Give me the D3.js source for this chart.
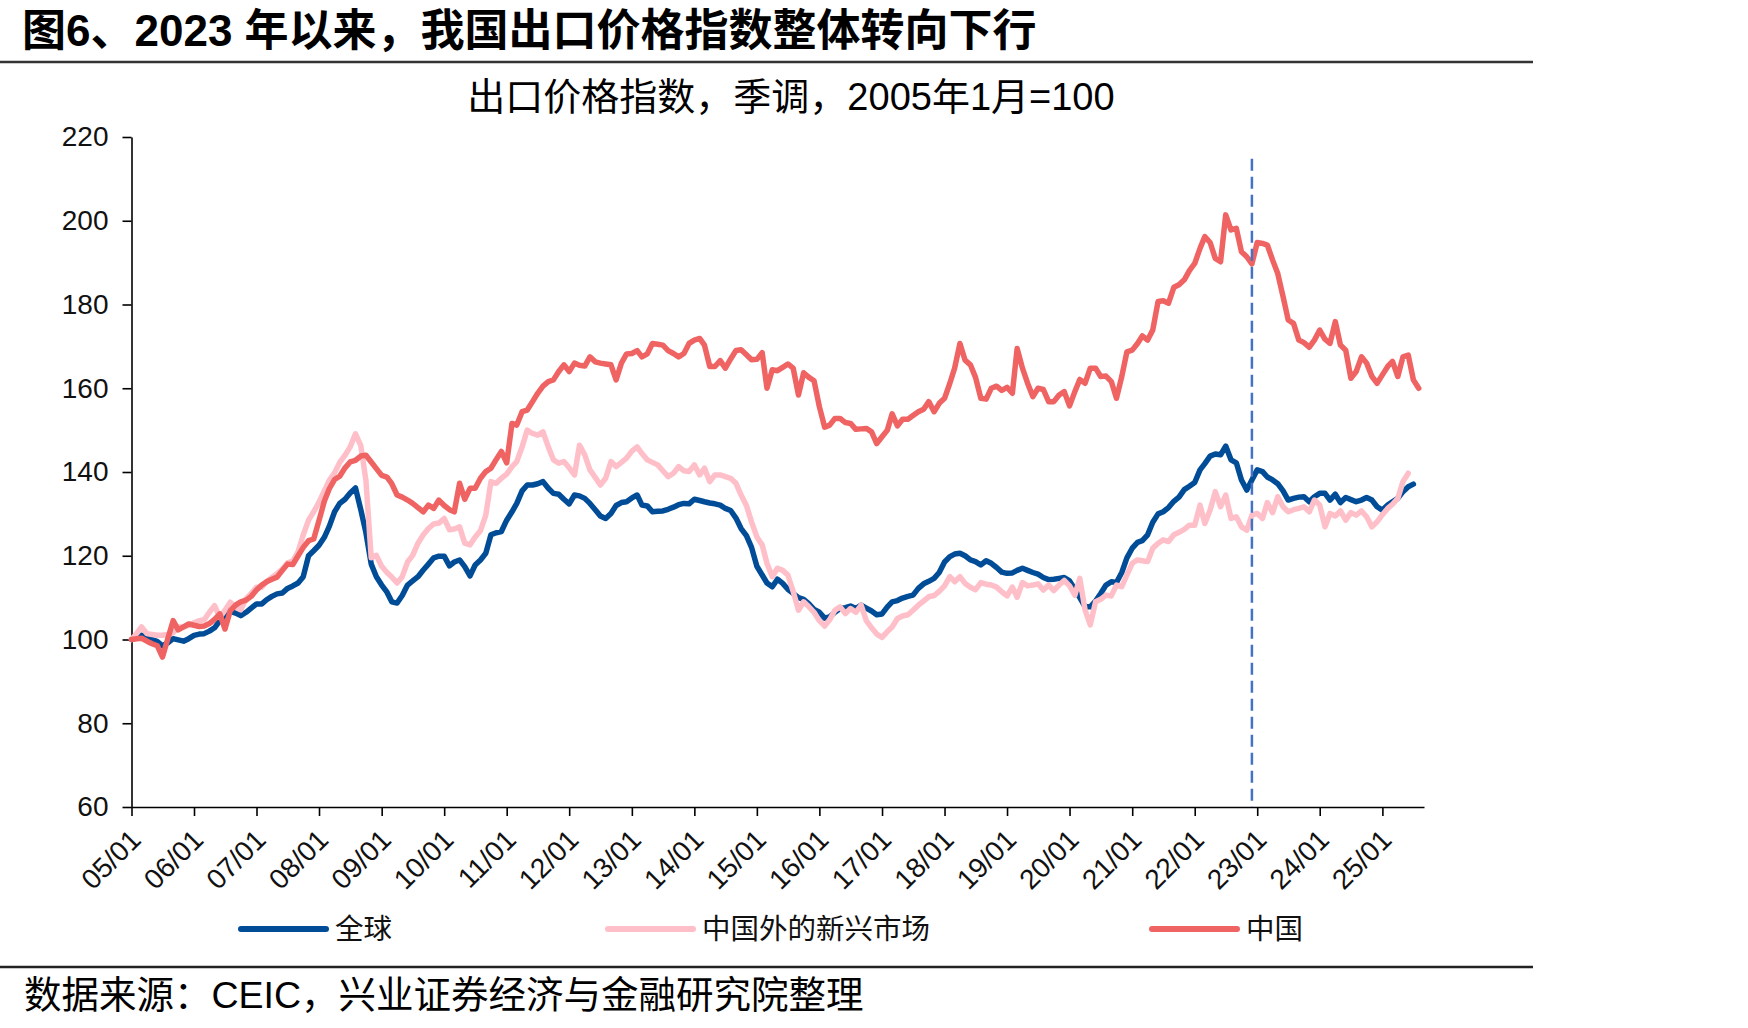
<!DOCTYPE html>
<html>
<head>
<meta charset="utf-8">
<script src="https://cdn.jsdelivr.net/npm/d3@7"></script>
<style>
  html, body { margin: 0; padding: 0; background: #fff; }
  svg { display: block; }
</style>
</head>
<body>
<script>
// monthly series, starting 2005/01
const seriesNames = ['全球', '中国外的新兴市场', '中国'];
const seriesColors = ['#004C97', '#FFBFC9', '#EF6363'];

const globalIdx = [
  100, 100.5, 101, 100.4, 100, 99.5, 98.5, 99.2, 100.2, 99.9,
  99.6, 100.2, 101, 101.3, 101.4, 102, 102.8, 104.5, 105.8, 106.7,
  106.3, 105.7, 106.5, 107.5, 108.5, 108.5, 109.5, 110.3, 110.9, 111.1,
  112.2, 112.8, 113.5, 115, 120, 121.2, 122.5, 124.4, 127, 130.5,
  132.5, 133.5, 135, 136.2, 131, 125.5, 118, 115, 113, 111.3,
  109, 108.7, 110.5, 113, 114, 115, 116.6, 118, 119.5, 119.9,
  119.9, 117.6, 118.5, 119, 117.4, 115.2, 117.8, 119, 120.6, 125,
  125.5, 125.8, 128.5, 130.5, 132.5, 135.5, 136.9, 136.9, 137.2, 137.7,
  136.1, 134.9, 134.7, 133.5, 132.4, 134.5, 134.3, 133.7, 132.5, 131,
  129.5, 128.9, 130.1, 132, 132.7, 132.9, 133.8, 134.5, 132.1, 131.9,
  130.5, 130.6, 130.7, 131.1, 131.6, 132.2, 132.5, 132.4, 133.5, 133.2,
  132.9, 132.6, 132.4, 132.1, 131.3, 130.8, 129, 126.5, 124.8, 122,
  117.5, 115.4, 113.5, 112.6, 114.4, 113.4, 112, 111, 110, 109.6,
  108.5, 107.2, 106.5, 105.1, 105.4, 106.5, 107.4, 107.6, 108, 107.4,
  108.2, 107.5, 106.8, 105.9, 106.1, 107.8, 109, 109.3, 109.9, 110.3,
  110.6, 112.2, 113.3, 113.9, 114.6, 116, 118.5, 119.8, 120.4, 120.6,
  120, 119, 118.6, 117.8, 118.8, 118.2, 117.2, 116.1, 115.8, 115.9,
  116.5, 117, 116.5, 116, 115.6, 114.8, 114.3, 114.4, 114.6, 114.8,
  114, 112, 110, 107.8, 107.8, 109.2, 111, 113, 113.8, 113.6,
  116, 119.5, 121.8, 123.2, 123.6, 125, 128, 130, 130.5, 131.5,
  133, 134, 135.8, 136.6, 137.5, 140.5, 142, 143.8, 144.3, 144.1,
  146.2, 142.9, 142.2, 138.1, 135.7, 138.1, 140.5, 140.1, 138.8, 138.1,
  137.2, 135.5, 133.3, 133.7, 134, 134.1, 132.9, 134.1, 134.9, 134.9,
  133.3, 134.7, 132.7, 133.9, 133.4, 132.9, 133.3, 133.9, 133.3, 131.7,
  130.9, 132.1, 132.9, 133.7, 135.3, 136.5, 137.1
];

const emIdx = [
  100, 101.5, 103, 101.4, 101.2, 101, 101, 101.2, 101.6, 103,
  103, 103.4, 104, 104.5, 104.7, 106.5, 108.1, 105.3, 107, 108.9,
  107.7, 107.1, 109.7, 111, 112.5, 112.5, 113.8, 114.8, 115.7, 116.8,
  118.3, 118.7, 121, 125, 128.5, 130.5, 132.8, 135.5, 138, 139.8,
  142.3, 144, 146, 149.1, 146.3, 138, 119.5, 120.1, 117.5, 116,
  114.9, 113.5, 115, 118.5, 120.1, 123, 125, 126.5, 127.6, 127.8,
  128.9, 126.2, 126.4, 126.9, 123, 122.6, 124.5, 126, 129.7, 137.7,
  137.3, 138.5, 139.5, 141.3, 142.5, 146, 150, 149.2, 148.8, 149.6,
  146, 142.9, 142.1, 142.5, 141, 139.3, 146.4, 144.1, 140.5, 138.7,
  136.9, 138.5, 142.5, 141.3, 142.3, 143.3, 145, 146, 144.4, 142.9,
  142.3, 141.7, 140.3, 138.9, 139.7, 141.3, 140.3, 140.1, 141.7, 139.3,
  140.9, 137.7, 139.3, 139.3, 138.9, 138.5, 137.3, 134.5, 132, 128.1,
  124.5, 122.6, 118.2, 115, 117, 116.5, 115.4, 111.5, 107, 109,
  107.8, 106.5, 104.5, 103.2, 104.7, 107, 107.8, 106.2, 107.4, 106.5,
  108.2, 104.5, 102.8, 101.3, 100.5, 101.9, 103, 105, 105.6, 105.9,
  107, 108.2, 109.2, 110.2, 110.5, 111.5, 112.8, 115, 113.8, 115,
  113.4, 112.5, 111.9, 113.6, 113.2, 113, 112.5, 111.4, 110.4, 112.5,
  110.1, 113.6, 112.8, 113, 113.3, 111.8, 113, 111.7, 113, 114.1,
  112.8, 110.6, 114.6, 107, 103.5, 109, 109.6, 110.6, 110.4, 113,
  112.6, 115.4, 118.2, 119, 118.8, 118.6, 121.8, 123, 123.8, 123.4,
  125, 125.6, 126.3, 127.3, 127.3, 132.1, 127.7, 130.9, 135.3, 131.7,
  134.5, 128.9, 129.3, 126.9, 126.1, 129.7, 130.1, 128.9, 132.7, 130.3,
  134.1, 131.7, 130.5, 131, 131.3, 131.7, 130.5, 133.3, 132.1, 126.9,
  130.1, 129.5, 130.7, 128.5, 130.3, 129.7, 130.7, 129.3, 126.9, 128.1,
  129.8, 131.3, 132.3, 133.7, 137.7, 139.7
];

const chinaIdx = [
  100, 100.2, 100.3, 99.6, 99, 98.5, 95.8, 100.2, 104.5, 102.3,
  103, 103.7, 103.4, 103.1, 103.2, 103.8, 104.8, 106.1, 102.5, 106.9,
  108.2, 109, 109.4, 110.3, 111.8, 113, 113.8, 114.4, 114.9, 116.5,
  118, 117.9, 120, 122, 123.6, 124, 128.4, 133, 136, 138.2,
  139, 141, 142.4, 142.8, 143.8, 144, 142.4, 140.8, 139.2, 138.8,
  137.2, 134.5, 134, 133.3, 132.5, 131.5, 130.5, 132.1, 131.3, 133.3,
  132, 131, 130.5, 137.3, 133.5, 136.1, 136.1, 138.5, 140.1, 140.9,
  143, 144.9, 142.2, 151.6, 151.2, 154.4, 154.8, 156.8, 158.8, 160.5,
  161.6, 162, 164, 165.6, 164, 166, 165.5, 165.3, 167.5, 166.3,
  166, 165.8, 165.6, 162, 166, 168.2, 168.3, 169, 167.5, 168.2,
  170.7, 170.5, 170.3, 169, 168.3, 167.5, 168.3, 170.7, 171.5, 171.9,
  170.3, 165.2, 165.2, 166.6, 164.8, 167, 169, 169.2, 168, 166.8,
  166.9, 168.5, 160, 164.4, 164.2, 165, 165.8, 164.8, 158.4, 163.7,
  162.6, 161.8, 155.6, 150.7, 151.2, 152.8, 152.8, 151.8, 151.6, 150.2,
  150.3, 150.4, 149.6, 146.8, 148.4, 150, 153.9, 151, 152.6, 152.6,
  153.5, 154.4, 155, 156.8, 154.4, 156.4, 157.6, 161.2, 164.8, 170.7,
  166.7, 165.6, 162.6, 157.6, 157.4, 160, 160.5, 159.5, 160.2, 158.8,
  169.5, 164.8, 161.2, 158, 160, 159.7, 156.8, 156.8, 158.4, 159.2,
  155.8, 159.2, 162.1, 161.2, 164.8, 164.8, 162.8, 162.9, 161.6, 157.6,
  162.8, 168.7, 169.1, 170.7, 172.5, 171.5, 173.9, 180.7, 180.9, 180.3,
  184.1, 184.7, 185.9, 188.1, 189.8, 193.4, 196.2, 194.8, 191, 190.2,
  201.4, 197.8, 198.2, 192.6, 191.4, 189.7, 194.8, 194.6, 194.2, 190.6,
  187.4, 181.9, 176.3, 175.5, 171.5, 170.9, 169.8, 171.5, 173.9, 171.7,
  170.7, 175.9, 170.3, 169.1, 162.4, 164, 167.5, 166, 162.8, 161.2,
  163.2, 165.2, 166.4, 162.8, 167.5, 167.9, 162, 160
];

const yTicks = [60, 80, 100, 120, 140, 160, 180, 200, 220];
const markerDate = new Date(2022, 11, 1);   // dashed marker, 2022/12
const markerTop = 214.8;

const startDate = new Date(2005, 0, 1);
const endDate = new Date(2025, 8, 1);
const xTicks = d3.timeYear.range(startDate, new Date(2025, 1, 1));

const W = 1748, H = 1028;
const latin = '"Liberation Sans", Arial, "Noto Sans CJK SC", sans-serif';

const svg = d3.select('body').append('svg')
  .attr('width', W).attr('height', H)
  .attr('viewBox', [0, 0, W, H]);

const x = d3.scaleTime().domain([startDate, endDate]).range([131.5, 1424]);
const y = d3.scaleLinear().domain([60, 220]).range([807, 137]);

// title + rules
svg.append('text')
  .attr('x', 22).attr('y', 46)
  .attr('font-family', latin).attr('font-weight', 'bold').attr('font-size', 44)
  .attr('fill', '#000')
  .text('图6、2023 年以来，我国出口价格指数整体转向下行');

svg.append('line').attr('x1', 0).attr('x2', 1533).attr('y1', 62).attr('y2', 62)
  .attr('stroke', '#333').attr('stroke-width', 2.5);

svg.append('text')
  .attr('x', 791).attr('y', 110)
  .attr('text-anchor', 'middle')
  .attr('font-family', latin).attr('font-size', 38).attr('fill', '#000')
  .text('出口价格指数，季调，2005年1月=100');

// axes
const yAxis = svg.append('g')
  .attr('transform', 'translate(131.5,0)')
  .call(d3.axisLeft(y).tickValues(yTicks).tickSize(9).tickPadding(14).tickSizeOuter(0));
yAxis.select('.domain').attr('stroke', '#000').attr('stroke-width', 1.6);
yAxis.selectAll('.tick line').attr('stroke', '#000').attr('stroke-width', 1.6);
yAxis.selectAll('.tick text')
  .attr('font-family', latin).attr('font-size', 28).attr('fill', '#111');

const xAxis = svg.append('g')
  .attr('transform', 'translate(0,807)')
  .call(d3.axisBottom(x).tickValues(xTicks).tickFormat(d3.timeFormat('%y/%m')).tickSize(9).tickSizeOuter(0));
xAxis.select('.domain').attr('stroke', '#000').attr('stroke-width', 1.6);
xAxis.selectAll('.tick line').attr('stroke', '#000').attr('stroke-width', 1.6);
xAxis.selectAll('.tick text')
  .attr('font-family', latin).attr('font-size', 28).attr('fill', '#111')
  .attr('text-anchor', 'end')
  .attr('dy', null)
  .attr('transform', 'translate(2,26) rotate(-45)');

// series
const series = [globalIdx, emIdx, chinaIdx];
const line = d3.line()
  .x((d, i) => x(d3.timeMonth.offset(startDate, i)))
  .y(d => y(d));

svg.append('g').selectAll('path')
  .data(series)
  .join('path')
  .attr('d', line)
  .attr('fill', 'none')
  .attr('stroke', (d, i) => seriesColors[i])
  .attr('stroke-width', 5.5)
  .attr('stroke-linejoin', 'round')
  .attr('stroke-linecap', 'round');

// 2022/12 marker, drawn top-down so the first dash sits at the top
svg.append('line')
  .attr('x1', x(markerDate)).attr('x2', x(markerDate))
  .attr('y1', y(markerTop)).attr('y2', y(60))
  .attr('stroke', '#4472C4').attr('stroke-width', 2.5)
  .attr('stroke-dasharray', '12,6');

// legend
const legendX = [241, 608, 1152];
const legend = svg.append('g').selectAll('g')
  .data(seriesNames)
  .join('g')
  .attr('transform', (d, i) => `translate(${legendX[i]},929)`);
legend.append('line')
  .attr('x1', 0).attr('x2', 85)
  .attr('stroke', (d, i) => seriesColors[i])
  .attr('stroke-width', 6).attr('stroke-linecap', 'round');
legend.append('text')
  .attr('x', 94).attr('y', 10)
  .attr('font-family', '"Noto Sans CJK SC", sans-serif').attr('font-size', 28.5).attr('fill', '#111')
  .text(d => d);

// source
svg.append('line').attr('x1', 0).attr('x2', 1533).attr('y1', 967).attr('y2', 967)
  .attr('stroke', '#222').attr('stroke-width', 2.5);

svg.append('text')
  .attr('x', 24).attr('y', 1008)
  .attr('font-family', latin).attr('font-size', 37.5).attr('fill', '#000')
  .text('数据来源：CEIC，兴业证券经济与金融研究院整理');
</script>
</body>
</html>
